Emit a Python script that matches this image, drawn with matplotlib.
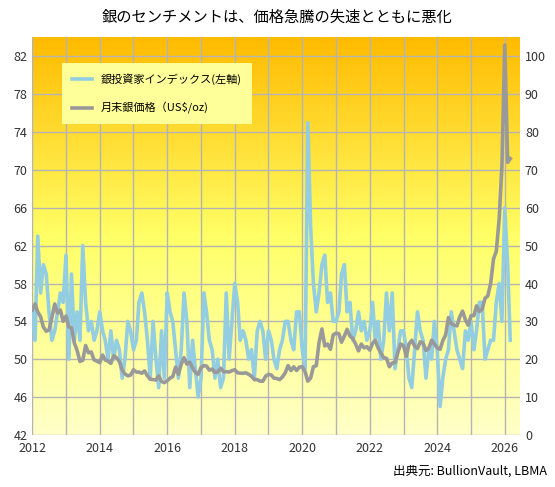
import numpy as np
import pandas as pd
import matplotlib
matplotlib.use('Agg')
import matplotlib.pyplot as plt
from matplotlib.colors import LinearSegmentedColormap

plt.rcParams['font.family'] = ['Noto Sans CJK JP', 'DejaVu Sans']

dates = pd.date_range('2012-01-01', periods=171, freq='MS')

# sentiment index (left axis)
sentiment = [
    55, 52, 63, 57, 60, 59, 55, 52, 53, 55, 57, 56,   # 2012
    61, 50, 59, 52, 55, 52, 62, 56, 53, 54, 52, 53,   # 2013
    55, 53, 52, 50, 53, 50, 52, 51, 48, 50, 54, 53,   # 2014
    51, 52, 56, 57, 55, 52, 48, 54, 50, 47, 53, 48,   # 2015
    57, 55, 54, 51, 48, 51, 57, 54, 47, 52, 49, 46,   # 2016
    48, 57, 55, 52, 51, 48, 50, 47, 48, 57, 50, 54,   # 2017
    58, 56, 52, 53, 52, 50, 51, 48, 53, 54, 53, 50,   # 2018
    53, 52, 50, 49, 51, 52, 54, 54, 52, 51, 55, 55,   # 2019
    51, 49, 75, 64, 58, 55, 57, 60, 61, 56, 57, 54,   # 2020
    54, 55, 59, 60, 55, 56, 52, 53, 55, 53, 54, 52,   # 2021
    53, 56, 52, 54, 50, 52, 57, 53, 57, 49, 51, 53,   # 2022
    53, 51, 48, 47, 51, 55, 53, 52, 48, 51, 50, 54,   # 2023
    51, 45, 48, 50, 51, 55, 53, 51, 50, 49, 53, 52,   # 2024
    54, 51, 53, 56, 56, 50, 51, 52, 52, 56, 58, 54,   # 2025
    66, 60, 52,                                       # 2026
]

# month-end silver price, USD/oz (right axis)
silver = [
    33.0, 34.6, 32.5, 31.2, 28.5, 27.4, 27.7, 31.0, 34.6, 32.2, 33.0, 30.0,
    31.4, 28.5, 28.3, 24.3, 22.3, 19.4, 19.7, 23.6, 21.7, 21.9, 19.8, 19.5,
    19.1, 21.1, 19.8, 19.5, 18.9, 20.9, 20.4, 19.4, 17.1, 16.1, 15.6, 15.8,
    17.2, 16.6, 16.6, 16.3, 16.9, 15.6, 14.7, 14.6, 14.5, 15.6, 14.1, 13.8,
    14.3, 15.0, 15.4, 17.9, 16.0, 18.7, 20.4, 18.7, 19.2, 17.7, 16.5, 16.0,
    17.8, 18.3, 18.2, 17.1, 17.4, 16.5, 16.7, 17.6, 16.7, 16.7, 16.6, 17.0,
    17.2, 16.4, 16.3, 16.3, 16.4, 16.0, 15.5, 14.6, 14.6, 14.2, 14.2, 15.5,
    16.0, 15.8, 15.0, 14.9, 14.6, 15.3, 16.4, 18.3, 17.0, 18.0, 17.0, 17.9,
    18.0, 16.7, 14.2, 15.0, 18.0, 18.3, 24.4, 28.0, 23.5, 24.0, 22.6, 26.4,
    26.9, 26.7, 24.5, 26.1, 27.9, 26.1, 25.5, 24.0, 22.2, 24.0, 23.0, 23.3,
    22.4, 24.2, 25.0, 23.0, 21.6, 20.4, 20.2, 18.0, 19.0, 19.1, 21.8, 24.0,
    23.6, 20.8, 24.0, 25.0, 23.5, 22.8, 24.6, 24.2, 22.3, 22.9, 25.0, 24.0,
    23.0, 22.6, 24.9, 26.4, 31.0, 29.4, 29.0, 28.8, 31.2, 32.7, 30.4, 29.0,
    31.5, 31.5, 34.1, 32.6, 33.2, 36.1, 36.7, 40.0, 46.5, 48.5, 57.0, 71.0,
    103.0, 72.0, 73.0,
]

fig = plt.figure(figsize=(5.55, 4.87), dpi=100)
ax = fig.add_axes([0.058, 0.107, 0.879, 0.816])
ax2 = ax.twinx()

# yellow-orange gradient background
cmap = LinearSegmentedColormap.from_list('bg', ['#FFFFC8', '#FFFF66', '#FFBB00'])
grad = np.linspace(0, 1, 256).reshape(-1, 1)
ax.imshow(grad, aspect='auto', cmap=cmap, origin='lower',
          extent=[0, 1, 0, 1], transform=ax.transAxes, zorder=0)

ax.plot(dates, sentiment, color='#92CDE2', lw=2.6, zorder=3)
ax2.plot(dates, silver, color='#999999', lw=2.6, zorder=3)

ax.set_ylim(42, 84)
ax.set_yticks(range(42, 84, 4))
ax2.set_ylim(0, 105)
ax2.set_yticks(range(0, 101, 10))
ax.set_xlim(pd.Timestamp('2012-01-01'), pd.Timestamp('2026-06-15'))
ax.set_xticks([pd.Timestamp(f'{y}-01-01') for y in range(2012, 2027, 2)])
ax.set_xticklabels([str(y) for y in range(2012, 2027, 2)])
ax.set_xticks([pd.Timestamp(f'{y}-01-01') for y in range(2013, 2027, 2)], minor=True)
ax.grid(True, which='both', color='#B4B4B4', lw=1, zorder=1)
for a in (ax, ax2):
    a.tick_params(labelsize=9, colors='#333333', length=0, which='both')
    for s in a.spines.values():
        s.set_visible(False)
ax.tick_params(axis='x', pad=5)

ax.plot([], [], color='#92CDE2', lw=2.6, label='銀投資家インデックス(左軸)')
ax.plot([], [], color='#999999', lw=2.6, label='月末銀価格（US$/oz)')
leg = ax.legend(loc='upper left', bbox_to_anchor=(0.05, 0.95), fontsize=8,
                frameon=True, fancybox=False, facecolor='#FFFF99', edgecolor='#FFFF99',
                framealpha=1, labelspacing=1.6, borderpad=0.9, handlelength=1.8)
leg.get_frame().set_linewidth(0)

fig.text(0.5, 0.965, '銀のセンチメントは、価格急騰の失速とともに悪化', ha='center', va='center', fontsize=11)
fig.text(0.985, 0.02, '出典元: BullionVault, LBMA', ha='right', va='bottom', fontsize=9)

fig.savefig('out.png', dpi=100)
